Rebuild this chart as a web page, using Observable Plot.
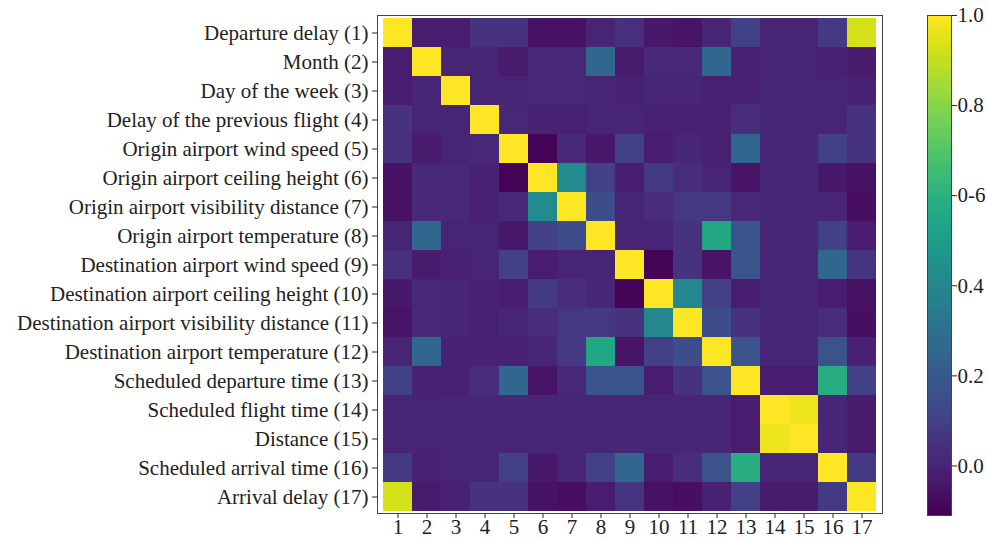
<!DOCTYPE html>
<html>
<head>
<meta charset="utf-8">
<script src="https://cdn.jsdelivr.net/npm/d3@7"></script>
<script src="https://cdn.jsdelivr.net/npm/@observablehq/plot@0.6"></script>
<style>
  html, body { margin: 0; padding: 0; background: #fff; }
  #wrap { display: flex; flex-direction: row; width: 987px; height: 541px; }
</style>
</head>
<body>
<div id="wrap"></div>
<script>
const rowLabels = [
  "Departure delay (1)",
  "Month (2)",
  "Day of the week (3)",
  "Delay of the previous flight (4)",
  "Origin airport wind speed (5)",
  "Origin airport ceiling height (6)",
  "Origin airport visibility distance (7)",
  "Origin airport temperature (8)",
  "Destination airport wind speed (9)",
  "Destination airport ceiling height (10)",
  "Destination airport visibility distance (11)",
  "Destination airport temperature (12)",
  "Scheduled departure time (13)",
  "Scheduled flight time (14)",
  "Distance (15)",
  "Scheduled arrival time (16)",
  "Arrival delay (17)"
];
const colLabels = ["1","2","3","4","5","6","7","8","9","10","11","12","13","14","15","16","17"];

// correlation matrix, rows 1..17
const corr = [
  [1.00,-0.02,-0.02, 0.05, 0.05,-0.06,-0.06, 0.00, 0.04,-0.04,-0.05, 0.00, 0.10, 0.00, 0.00, 0.08, 0.93],
  [-0.02,1.00, 0.00, 0.00,-0.03, 0.02, 0.02, 0.25,-0.03, 0.02, 0.02, 0.25,-0.01, 0.00, 0.00,-0.01,-0.03],
  [-0.02,0.00, 1.00, 0.00, 0.00, 0.02, 0.02, 0.00,-0.01, 0.01, 0.01,-0.01,-0.01, 0.01, 0.01, 0.00,-0.01],
  [0.05, 0.00, 0.00, 1.00, 0.02,-0.01,-0.01, 0.00, 0.00,-0.01,-0.01,-0.01, 0.03, 0.00, 0.00, 0.00, 0.05],
  [0.05,-0.03, 0.00, 0.02, 1.00,-0.10, 0.02,-0.04, 0.10,-0.02, 0.01,-0.01, 0.25, 0.01, 0.01, 0.10, 0.05],
  [-0.06,0.02, 0.02,-0.01,-0.10, 1.00, 0.42, 0.10,-0.02, 0.08, 0.03, 0.00,-0.05, 0.01, 0.01,-0.04,-0.06],
  [-0.06,0.02, 0.02,-0.01, 0.02, 0.42, 1.00, 0.15, 0.00, 0.03, 0.07, 0.07, 0.02, 0.01, 0.01, 0.00,-0.07],
  [0.00, 0.25, 0.00, 0.00,-0.04, 0.10, 0.15, 1.00, 0.00, 0.01, 0.05, 0.55, 0.18, 0.00, 0.01, 0.10,-0.02],
  [0.04,-0.03,-0.01, 0.00, 0.10,-0.02, 0.00, 0.00, 1.00,-0.10, 0.05,-0.05, 0.18, 0.01, 0.01, 0.25, 0.06],
  [-0.04,0.02, 0.01,-0.01,-0.02, 0.08, 0.03, 0.01,-0.10, 1.00, 0.40, 0.10,-0.02, 0.01, 0.01,-0.02,-0.06],
  [-0.05,0.02, 0.01,-0.01, 0.01, 0.03, 0.07, 0.07, 0.05, 0.40, 1.00, 0.15, 0.05, 0.01, 0.01, 0.03,-0.07],
  [0.00, 0.25,-0.01,-0.01,-0.01, 0.01, 0.07, 0.55,-0.05, 0.10, 0.15, 1.00, 0.17, 0.01, 0.01, 0.17,-0.01],
  [0.10,-0.01,-0.01, 0.03, 0.25,-0.05, 0.02, 0.18, 0.18,-0.02, 0.05, 0.17, 1.00,-0.02,-0.02, 0.58, 0.10],
  [0.00, 0.00, 0.01, 0.00, 0.01, 0.01, 0.01, 0.00, 0.01, 0.01, 0.01, 0.01,-0.02, 1.00, 0.97, 0.01,-0.03],
  [0.00, 0.00, 0.01, 0.00, 0.01, 0.01, 0.01, 0.01, 0.01, 0.01, 0.01, 0.01,-0.02, 0.97, 1.00, 0.01,-0.03],
  [0.08,-0.01, 0.00, 0.00, 0.10,-0.04, 0.00, 0.10, 0.25,-0.02, 0.03, 0.17, 0.58, 0.01, 0.01, 1.00, 0.08],
  [0.93,-0.03,-0.01, 0.05, 0.05,-0.06,-0.07,-0.02, 0.06,-0.06,-0.07,-0.01, 0.10,-0.03,-0.03, 0.08, 1.00]
];

const colorDomain = [-0.11, 1.0];
const cbTicks = [0.0, 0.2, 0.4, 0.6, 0.8, 1.0];
const cbTickLabels = ["0.0", "0.2", "0.4", "0-6", "0.8", "1.0"];

const cells = corr.flatMap((r, i) => r.map((v, j) => ({row: rowLabels[i], col: colLabels[j], v})));

const font = {fontFamily: "'Liberation Serif', 'DejaVu Serif', serif", fontSize: "21px", color: "#222", background: "#fff"};
const colorOpts = {type: "linear", scheme: "viridis", domain: colorDomain};

const heat = Plot.plot({
  width: 900,
  height: 541,
  marginLeft: 377,
  marginRight: 18,
  marginTop: 15,
  marginBottom: 28,
  style: font,
  x: {domain: colLabels, padding: 0, label: null, tickSize: 5, tickPadding: 1},
  y: {domain: rowLabels, padding: 0, label: null, tickSize: 5, tickPadding: 4},
  color: colorOpts,
  marks: [
    Plot.cell(cells, {x: "col", y: "row", fill: "v", inset: 0, shapeRendering: "crispEdges"}),
    Plot.frame({stroke: "#444", strokeWidth: 1})
  ]
});

const grad = d3.range(colorDomain[0], colorDomain[1], 0.004);
const bar = Plot.plot({
  width: 87,
  height: 541,
  marginLeft: 27,
  marginRight: 36,
  marginTop: 15,
  marginBottom: 26,
  style: font,
  x: {domain: [0, 1], axis: null},
  y: {domain: colorDomain, axis: "right", ticks: cbTicks, tickFormat: d => cbTickLabels[cbTicks.indexOf(d)], tickSize: 5, tickPadding: 1, label: null},
  color: colorOpts,
  marks: [
    Plot.rect(grad, {x1: 0, x2: 1, y1: d => d, y2: d => Math.min(d + 0.0045, colorDomain[1]), fill: d => d + 0.002, shapeRendering: "crispEdges"}),
    Plot.frame({stroke: "#444", strokeWidth: 1})
  ]
});

const wrap = document.getElementById("wrap");
wrap.appendChild(heat);
wrap.appendChild(bar);
</script>
</body>
</html>
